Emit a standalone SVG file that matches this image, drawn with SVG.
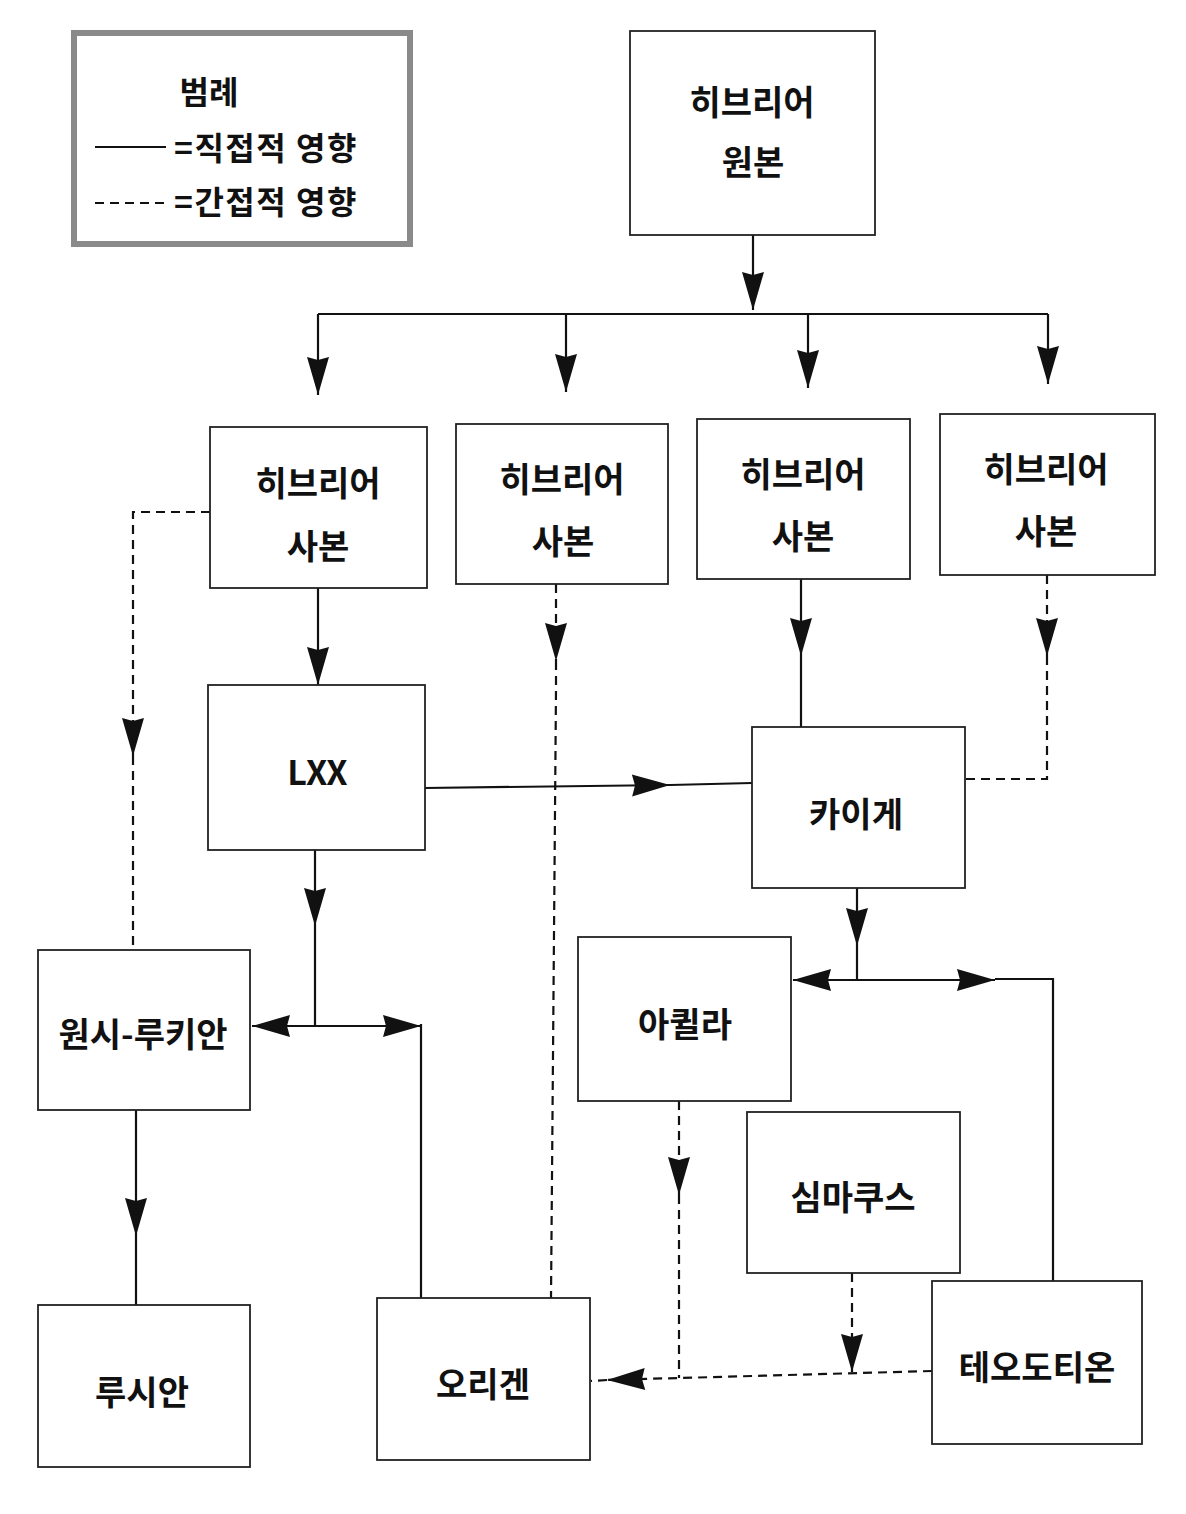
<svg xmlns="http://www.w3.org/2000/svg" width="1186" height="1514" viewBox="0 0 1186 1514">
<style>
.box{fill:#fff;stroke:#222;stroke-width:1.8}
.lbl{font-family:"Noto Sans CJK KR","Noto Sans",sans-serif;font-size:34px;font-weight:700;fill:#111;text-anchor:middle;dominant-baseline:central}
.leg{font-family:"Noto Sans CJK KR","Noto Sans",sans-serif;font-size:32px;font-weight:700;fill:#111}
.s{fill:none;stroke:#111;stroke-width:2.2}
.d{fill:none;stroke:#111;stroke-width:2.2;stroke-dasharray:9 6}
.a{marker-end:url(#ah)}
</style>
<defs>
<marker id="ah" markerUnits="userSpaceOnUse" viewBox="-40 -12 42 24" refX="0" refY="0" markerWidth="42" markerHeight="24" orient="auto">
<path d="M0,0 L-38,-11 L-35,0 L-38,11 Z" fill="#111" stroke="none"/>
</marker>
</defs>
<rect width="1186" height="1514" fill="#fff"/>

<g id="legend">
<rect x="74" y="33" width="336" height="211" fill="#fff" stroke="#8a8a8a" stroke-width="6"/>
<text class="leg" x="209" y="90" text-anchor="middle" dominant-baseline="central">범례</text>
<line x1="95" y1="147" x2="166" y2="147" stroke="#111" stroke-width="2"/>
<text class="leg" x="174" y="146" dominant-baseline="central" letter-spacing="1.5">=직접적 영향</text>
<line x1="95" y1="203" x2="166" y2="203" stroke="#111" stroke-width="2" stroke-dasharray="9 6"/>
<text class="leg" x="174" y="200" dominant-baseline="central" letter-spacing="1.5">=간접적 영향</text>
</g>

<g id="connectors">
<path class="s a" d="M753,235 V310"/>
<path class="s" d="M318,314 H1048"/>
<path class="s a" d="M318,314 V395"/>
<path class="s a" d="M566,314 V392"/>
<path class="s a" d="M808,314 V388"/>
<path class="s a" d="M1048,314 V384"/>

<path class="d a" d="M210,512 H133 V756"/>
<path class="d" d="M133,756 V950"/>

<path class="s a" d="M318,588 V685"/>

<path class="d a" d="M556,584 V661"/>
<path class="d" d="M556,661 V690 L551,1298"/>

<path class="s a" d="M801,579 V656"/>
<path class="s" d="M801,656 V727"/>

<path class="d a" d="M1047,575 V656"/>
<path class="d" d="M1047,656 V779 H965"/>

<path class="s a" d="M425,788 L670,785"/>
<path class="s" d="M670,785 L752,783"/>

<path class="s a" d="M315,850 V926"/>
<path class="s" d="M315,926 V1026"/>
<path class="s a" d="M315,1026 H252"/>
<path class="s a" d="M315,1026 H421"/>
<path class="s" d="M421,1024 V1298"/>

<path class="s a" d="M136,1110 V1236"/>
<path class="s" d="M136,1236 V1305"/>

<path class="s a" d="M857,888 V946"/>
<path class="s" d="M857,946 V980"/>
<path class="s a" d="M857,980 H793"/>
<path class="s a" d="M857,980 H995"/>
<path class="s" d="M995,979 H1053 V1281"/>

<path class="d a" d="M679,1101 V1195"/>
<path class="d" d="M679,1195 V1378"/>
<path class="d a" d="M852,1273 V1372"/>
<path class="d a" d="M932,1371 L607,1380"/>
<path class="d" d="M607,1380 L591,1381"/>
</g>

<g id="n-original"><rect class="box" x="630" y="31" width="245" height="204"/><text class="lbl" x="752" y="100">히브리어</text><text class="lbl" x="753" y="160">원본</text></g>
<g id="n-copy1"><rect class="box" x="210" y="427" width="217" height="161"/><text class="lbl" x="318" y="481">히브리어</text><text class="lbl" x="318" y="544">사본</text></g>
<g id="n-copy2"><rect class="box" x="456" y="424" width="212" height="160"/><text class="lbl" x="562" y="477">히브리어</text><text class="lbl" x="563" y="539">사본</text></g>
<g id="n-copy3"><rect class="box" x="697" y="419" width="213" height="160"/><text class="lbl" x="803" y="472">히브리어</text><text class="lbl" x="803" y="534">사본</text></g>
<g id="n-copy4"><rect class="box" x="940" y="414" width="215" height="161"/><text class="lbl" x="1046" y="467">히브리어</text><text class="lbl" x="1046" y="529">사본</text></g>
<g id="n-lxx"><rect class="box" x="208" y="685" width="217" height="165"/><text class="lbl" x="317" y="770" font-size="36" letter-spacing="-1">LXX</text></g>
<g id="n-kaige"><rect class="box" x="752" y="727" width="213" height="161"/><text class="lbl" x="856" y="812">카이게</text></g>
<g id="n-protolucian"><rect class="box" x="38" y="950" width="212" height="160"/><text class="lbl" x="143" y="1032">원시-루키안</text></g>
<g id="n-aquila"><rect class="box" x="578" y="937" width="213" height="164"/><text class="lbl" x="685" y="1022">아퀼라</text></g>
<g id="n-symmachus"><rect class="box" x="747" y="1112" width="213" height="161"/><text class="lbl" x="853" y="1195">심마쿠스</text></g>
<g id="n-lucian"><rect class="box" x="38" y="1305" width="212" height="162"/><text class="lbl" x="142" y="1390">루시안</text></g>
<g id="n-origen"><rect class="box" x="377" y="1298" width="213" height="162"/><text class="lbl" x="483" y="1382">오리겐</text></g>
<g id="n-theodotion"><rect class="box" x="932" y="1281" width="210" height="163"/><text class="lbl" x="1037" y="1365">테오도티온</text></g>
</svg>
